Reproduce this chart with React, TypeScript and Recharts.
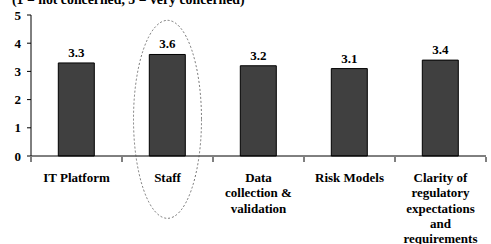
import { BarChart, Bar, XAxis, YAxis, LabelList, ReferenceDot } from 'recharts';

const categories = ['IT Platform', 'Staff', 'Data collection & validation', 'Risk Models', 'Clarity of regulatory expectations and requirements'];
const labelLines = [['IT Platform'], ['Staff'], ['Data', 'collection &', 'validation'], ['Risk Models'], ['Clarity of', 'regulatory', 'expectations', 'and', 'requirements']];
const scores = [3.3, 3.6, 3.2, 3.1, 3.4];
const yTicks = [0, 1, 2, 3, 4, 5];
const title = '(1 = not concerned, 5 = very concerned)';

const data = categories.map((name, i) => ({ name, score: scores[i] }));

const W = 491;
const H = 244;
const M = { top: 15, right: 5, left: 0, bottom: 0 };
const Y_W = 31;
const FONT = 'Liberation Serif';
const half = (W - Y_W - M.right) / categories.length / 2;

function CatTick(props: any) {
  const { x, y, payload, index } = props;
  const lines = labelLines[index] || [payload.value];
  return (
    <g>
      <line x1={x - half} y1={y - 1} x2={x - half} y2={y + 4} stroke="#000" />
      {index === categories.length - 1 && (
        <line x1={x + half} y1={y - 1} x2={x + half} y2={y + 4} stroke="#000" />
      )}
      <text x={x} y={y + 24} textAnchor="middle" fontFamily={FONT} fontWeight="bold" fontSize={13} fill="#000">
        {lines.map((l: string, i: number) => (
          <tspan key={i} x={x} dy={i === 0 ? 0 : 15.3}>{l}</tspan>
        ))}
      </text>
    </g>
  );
}

const Ellipse = (props: any) => (
  <ellipse cx={props.cx} cy={props.cy} rx={34} ry={99} fill="none" stroke="#555" strokeWidth={0.8} strokeDasharray="2 2" />
);

export default function App() {
  return (
    <div style={{ position: 'absolute', left: 0, top: 0, width: W, height: H, background: '#fff', fontFamily: FONT, fontWeight: 'bold', fontSize: 13 }}>
      <svg width={W} height={H} style={{ position: 'absolute', left: 0, top: 0 }}>
        <text x={12} y={4} fontFamily={FONT} fontWeight="bold" fontSize={13.8} fill="#000">{title}</text>
      </svg>
      <div style={{ position: 'absolute', left: 0, top: 0 }}>
        <BarChart width={W} height={H} data={data} margin={M} barCategoryGap="30%" style={{ fontFamily: FONT }}>
          <XAxis
            dataKey="name"
            interval={0}
            height={88}
            tickLine={false}
            tickSize={0}
            tick={<CatTick />}
            axisLine={{ stroke: '#000' }}
          />
          <YAxis
            width={Y_W}
            domain={[0, 5]}
            ticks={yTicks}
            interval={0}
            tickSize={4}
            tickMargin={6}
            axisLine={{ stroke: '#000' }}
            tickLine={{ stroke: '#000' }}
            tick={{ fontFamily: FONT, fontWeight: 'bold', fontSize: 13, fill: '#000' }}
          />
          <Bar dataKey="score" fill="#404040" stroke="#000" strokeWidth={1} isAnimationActive={false}>
            <LabelList dataKey="score" position="top" offset={6} fontFamily={FONT} fontWeight="bold" fontSize={13} fill="#000" formatter={(v: any) => Number(v).toFixed(1)} />
          </Bar>
          <ReferenceDot x="Staff" y={1.3} ifOverflow="visible" shape={<Ellipse />} />
        </BarChart>
      </div>
    </div>
  );
}
